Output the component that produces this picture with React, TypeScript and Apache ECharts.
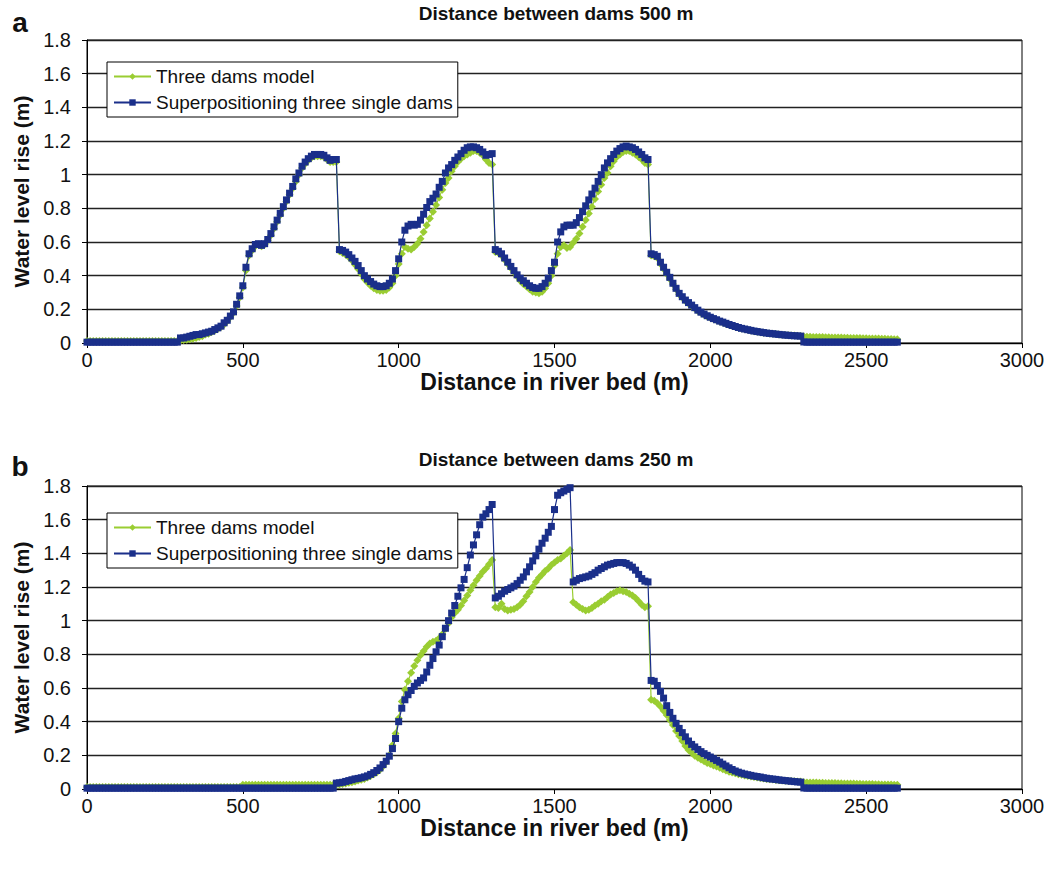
import React, { useEffect, useRef } from "react";
import * as echarts from "echarts";

// Sampling distance along the river bed (m) between consecutive readings
const STEP_M = 10;

const seriesNames = ["Three dams model", "Superpositioning three single dams"];
const panelTitles = ["Distance between dams 500 m", "Distance between dams 250 m"];
const panelLetters = ["a", "b"];
const xAxisTitle = "Distance in river bed (m)";
const yAxisTitle = "Water level rise (m)";

// ---------- Panel a: distance between dams 500 m (values every 10 m, 0..2600) ----------
const aThreeDams = [
  0.012, 0.012, 0.012, 0.012, 0.012, 0.012, 0.012, 0.012, 0.012, 0.012,
  0.012, 0.012, 0.012, 0.012, 0.012, 0.012, 0.012, 0.012, 0.012, 0.012,
  0.012, 0.012, 0.012, 0.012, 0.012, 0.012, 0.012, 0.012, 0.012, 0.012,
  0.015, 0.018, 0.02, 0.022, 0.025, 0.03, 0.035, 0.04, 0.05, 0.055,
  0.065, 0.075, 0.085, 0.095, 0.11, 0.13, 0.155, 0.18, 0.22, 0.27,
  0.33, 0.43, 0.52, 0.55, 0.575, 0.585, 0.575, 0.585, 0.61, 0.64,
  0.68, 0.72, 0.76, 0.8, 0.84, 0.88, 0.92, 0.96, 1.0, 1.04,
  1.065, 1.085, 1.1, 1.11, 1.11, 1.11, 1.105, 1.09, 1.075, 1.075,
  1.075, 0.545, 0.535, 0.525, 0.51, 0.49, 0.465, 0.44, 0.41, 0.38,
  0.36, 0.34, 0.325, 0.315, 0.31, 0.31, 0.315, 0.33, 0.355, 0.4,
  0.47, 0.53, 0.57, 0.56, 0.555, 0.57, 0.59, 0.62, 0.66, 0.7,
  0.74, 0.78, 0.82, 0.865, 0.91, 0.95, 0.98, 1.02, 1.05, 1.075,
  1.095, 1.11, 1.12, 1.13, 1.14, 1.14, 1.13, 1.115, 1.09, 1.07,
  1.06, 0.54, 0.535, 0.52, 0.495, 0.47, 0.445, 0.42, 0.395, 0.37,
  0.35, 0.335, 0.32, 0.305, 0.3, 0.295, 0.305, 0.325, 0.355, 0.4,
  0.46, 0.53, 0.57, 0.58, 0.565, 0.57, 0.595, 0.62, 0.65, 0.69,
  0.73, 0.77, 0.81, 0.855, 0.9, 0.94, 0.98, 1.01, 1.05, 1.08,
  1.105, 1.12, 1.135, 1.14, 1.14, 1.13, 1.12, 1.105, 1.09, 1.07,
  1.06, 0.52, 0.515, 0.505, 0.47, 0.44, 0.41, 0.38, 0.35, 0.32,
  0.29, 0.27, 0.25, 0.235, 0.22, 0.205, 0.19, 0.18, 0.168, 0.158,
  0.15, 0.142, 0.135, 0.128, 0.122, 0.115, 0.108, 0.102, 0.096, 0.091,
  0.086, 0.082, 0.078, 0.074, 0.07, 0.067, 0.064, 0.061, 0.059, 0.057,
  0.055, 0.053, 0.051, 0.049, 0.048, 0.046, 0.045, 0.044, 0.043, 0.042,
  0.038, 0.037, 0.037, 0.036, 0.036, 0.035, 0.035, 0.034, 0.034, 0.033,
  0.033, 0.032, 0.032, 0.031, 0.031, 0.03, 0.03, 0.029, 0.029, 0.028,
  0.028, 0.027, 0.027, 0.026, 0.026, 0.025, 0.025, 0.024, 0.024, 0.023,
  0.022,
];

const aSuperposition = [
  0.005, 0.005, 0.005, 0.005, 0.005, 0.005, 0.005, 0.005, 0.005, 0.005,
  0.005, 0.005, 0.005, 0.005, 0.005, 0.005, 0.005, 0.005, 0.005, 0.005,
  0.005, 0.005, 0.005, 0.005, 0.005, 0.005, 0.005, 0.005, 0.005, 0.005,
  0.03, 0.03, 0.035, 0.04, 0.045, 0.05, 0.05, 0.055, 0.06, 0.065,
  0.07, 0.08, 0.09, 0.1, 0.12, 0.135, 0.16, 0.185, 0.23, 0.28,
  0.34, 0.45, 0.53, 0.56, 0.585, 0.59, 0.58, 0.59, 0.615, 0.65,
  0.69, 0.73, 0.77, 0.81, 0.85, 0.89, 0.93, 0.975, 1.01, 1.05,
  1.075, 1.095, 1.11, 1.12, 1.12, 1.12, 1.115, 1.1, 1.085, 1.09,
  1.09, 0.555, 0.55, 0.54, 0.525, 0.505, 0.485, 0.46, 0.43, 0.4,
  0.38, 0.365, 0.35, 0.34, 0.335, 0.335, 0.34, 0.355, 0.38, 0.43,
  0.5, 0.6, 0.67, 0.695, 0.705, 0.7, 0.705, 0.73, 0.765, 0.805,
  0.84, 0.86, 0.885, 0.925, 0.96, 1.01, 1.04, 1.06, 1.085, 1.105,
  1.125, 1.145, 1.16, 1.165, 1.165, 1.16, 1.15, 1.135, 1.115, 1.12,
  1.125, 0.555, 0.545, 0.53, 0.505, 0.48, 0.455, 0.43, 0.405, 0.385,
  0.37, 0.355, 0.34, 0.33, 0.325, 0.325, 0.335, 0.355, 0.385, 0.43,
  0.48, 0.6, 0.66, 0.69, 0.7, 0.7, 0.7, 0.715, 0.745, 0.78,
  0.815, 0.85, 0.885, 0.92, 0.96, 1.0, 1.04, 1.07, 1.095, 1.12,
  1.14, 1.155, 1.165, 1.17, 1.165, 1.16, 1.15, 1.135, 1.12, 1.1,
  1.09, 0.53, 0.525, 0.515, 0.48, 0.45, 0.42, 0.39, 0.355, 0.325,
  0.295, 0.275, 0.255, 0.24, 0.225, 0.21, 0.195, 0.183, 0.172, 0.162,
  0.153, 0.145, 0.138, 0.13, 0.124, 0.117, 0.11, 0.104, 0.098, 0.092,
  0.087, 0.083, 0.079, 0.075, 0.071, 0.068, 0.065, 0.062, 0.059, 0.057,
  0.055, 0.053, 0.051, 0.049, 0.047, 0.046, 0.044, 0.043, 0.042, 0.041,
  0.006, 0.005, 0.005, 0.005, 0.005, 0.005, 0.005, 0.005, 0.005, 0.005,
  0.005, 0.005, 0.005, 0.005, 0.005, 0.005, 0.005, 0.005, 0.005, 0.005,
  0.005, 0.005, 0.005, 0.005, 0.005, 0.005, 0.005, 0.005, 0.005, 0.005,
  0.005,
];

// ---------- Panel b: distance between dams 250 m (values every 10 m, 0..2600) ----------
const bThreeDams = [
  0.012, 0.012, 0.012, 0.012, 0.012, 0.012, 0.012, 0.012, 0.012, 0.012,
  0.012, 0.012, 0.012, 0.012, 0.012, 0.012, 0.012, 0.012, 0.012, 0.012,
  0.012, 0.012, 0.012, 0.012, 0.012, 0.012, 0.012, 0.012, 0.012, 0.012,
  0.012, 0.012, 0.012, 0.012, 0.012, 0.012, 0.012, 0.012, 0.012, 0.012,
  0.012, 0.012, 0.012, 0.012, 0.012, 0.012, 0.012, 0.012, 0.012, 0.012,
  0.025, 0.025, 0.025, 0.025, 0.025, 0.025, 0.025, 0.025, 0.025, 0.025,
  0.025, 0.025, 0.025, 0.025, 0.025, 0.025, 0.025, 0.025, 0.025, 0.025,
  0.025, 0.025, 0.025, 0.025, 0.025, 0.025, 0.025, 0.025, 0.025, 0.025,
  0.025, 0.027, 0.03, 0.033, 0.037, 0.04, 0.045, 0.05, 0.055, 0.06,
  0.068, 0.077, 0.088, 0.1, 0.115, 0.135, 0.16, 0.2, 0.26, 0.33,
  0.42, 0.52, 0.59, 0.64, 0.69, 0.73, 0.765, 0.795, 0.82, 0.845,
  0.865, 0.875, 0.88, 0.895, 0.92, 0.95, 0.985, 1.02, 1.045, 1.065,
  1.09, 1.12, 1.15, 1.18, 1.21, 1.24, 1.265, 1.29, 1.31, 1.335,
  1.36, 1.08, 1.075, 1.1, 1.07, 1.06, 1.065, 1.07, 1.08, 1.095,
  1.115, 1.145, 1.17, 1.2, 1.23, 1.255, 1.275, 1.295, 1.31, 1.33,
  1.345, 1.36, 1.37, 1.385, 1.4, 1.42, 1.11, 1.095, 1.08, 1.07,
  1.06, 1.065, 1.075, 1.09, 1.1, 1.115, 1.125, 1.14, 1.155, 1.165,
  1.175, 1.18, 1.175, 1.17, 1.16, 1.15, 1.135, 1.115, 1.095, 1.08,
  1.085, 0.53, 0.525, 0.51, 0.49, 0.465, 0.44, 0.41, 0.38, 0.345,
  0.315, 0.285, 0.255, 0.232, 0.215, 0.198, 0.185, 0.175, 0.165, 0.155,
  0.148, 0.14, 0.133, 0.126, 0.118, 0.11, 0.103, 0.098, 0.093, 0.088,
  0.084, 0.08, 0.077, 0.074, 0.071, 0.068, 0.065, 0.062, 0.06, 0.058,
  0.056, 0.054, 0.052, 0.05, 0.049, 0.048, 0.047, 0.046, 0.045, 0.044,
  0.04, 0.039, 0.039, 0.038, 0.038, 0.037, 0.037, 0.036, 0.036, 0.035,
  0.035, 0.034, 0.034, 0.033, 0.033, 0.032, 0.032, 0.031, 0.031, 0.03,
  0.03, 0.029, 0.029, 0.028, 0.028, 0.027, 0.027, 0.026, 0.026, 0.025,
  0.025,
];

const bSuperposition = [
  0.005, 0.005, 0.005, 0.005, 0.005, 0.005, 0.005, 0.005, 0.005, 0.005,
  0.005, 0.005, 0.005, 0.005, 0.005, 0.005, 0.005, 0.005, 0.005, 0.005,
  0.005, 0.005, 0.005, 0.005, 0.005, 0.005, 0.005, 0.005, 0.005, 0.005,
  0.005, 0.005, 0.005, 0.005, 0.005, 0.005, 0.005, 0.005, 0.005, 0.005,
  0.005, 0.005, 0.005, 0.005, 0.005, 0.005, 0.005, 0.005, 0.005, 0.005,
  0.005, 0.005, 0.005, 0.005, 0.005, 0.005, 0.005, 0.005, 0.005, 0.005,
  0.005, 0.005, 0.005, 0.005, 0.005, 0.005, 0.005, 0.005, 0.005, 0.005,
  0.005, 0.005, 0.005, 0.005, 0.005, 0.005, 0.005, 0.005, 0.005, 0.005,
  0.035, 0.037, 0.04, 0.045, 0.05, 0.055, 0.06, 0.063, 0.067, 0.072,
  0.078, 0.087, 0.097, 0.11, 0.125, 0.145, 0.165, 0.195, 0.24, 0.3,
  0.4, 0.48, 0.53, 0.56, 0.585, 0.61, 0.63, 0.645, 0.66, 0.695,
  0.735, 0.775, 0.815, 0.855, 0.905, 0.955, 1.0, 1.045, 1.09, 1.145,
  1.195, 1.245, 1.315, 1.39, 1.45, 1.51, 1.57, 1.615, 1.635, 1.66,
  1.69, 1.135, 1.145, 1.16, 1.175, 1.185, 1.195, 1.205, 1.22, 1.24,
  1.26, 1.29, 1.32, 1.355, 1.385, 1.425, 1.46, 1.49, 1.525, 1.56,
  1.66, 1.745, 1.76, 1.77, 1.78, 1.79, 1.23, 1.24, 1.25, 1.255,
  1.26, 1.265, 1.275, 1.285, 1.3, 1.31, 1.32, 1.33, 1.335, 1.34,
  1.345, 1.345, 1.345, 1.34, 1.33, 1.318, 1.3, 1.275, 1.25, 1.235,
  1.23, 0.645, 0.64, 0.615, 0.58, 0.54, 0.495, 0.455, 0.42, 0.39,
  0.36, 0.335, 0.31, 0.285, 0.265, 0.25, 0.235, 0.222, 0.21, 0.2,
  0.19, 0.18, 0.17, 0.16, 0.148, 0.137, 0.126, 0.116, 0.107, 0.1,
  0.094, 0.089, 0.085, 0.081, 0.077, 0.074, 0.071, 0.067, 0.064, 0.061,
  0.059, 0.057, 0.054, 0.052, 0.05, 0.048, 0.046, 0.044, 0.042, 0.041,
  0.006, 0.005, 0.005, 0.005, 0.005, 0.005, 0.005, 0.005, 0.005, 0.005,
  0.005, 0.005, 0.005, 0.005, 0.005, 0.005, 0.005, 0.005, 0.005, 0.005,
  0.005, 0.005, 0.005, 0.005, 0.005, 0.005, 0.005, 0.005, 0.005, 0.005,
  0.005,
];

const GREEN = "#9ACD32";
const BLUE = "#1A2F8A";
const FONT = "'Liberation Sans', Arial, sans-serif";

function toPairs(values: number[]) {
  return values.map((v, i) => [i * STEP_M, v]);
}

export default function App() {
  const ref = useRef<HTMLDivElement>(null);

  useEffect(() => {
    if (!ref.current) return;
    const chart = echarts.init(ref.current, null, { renderer: "svg" });

    const grids = [
      { left: 87, top: 40, width: 935, height: 303 },
      { left: 87, top: 486, width: 935, height: 303 },
    ];

    const makeX = (gi: number) => ({
      type: "value",
      gridIndex: gi,
      min: 0,
      max: 3000,
      interval: 500,
      axisLine: { show: true, lineStyle: { color: "#000", width: 1 } },
      axisTick: { show: true, length: 5, lineStyle: { color: "#000" } },
      splitLine: { show: false },
      axisLabel: {
        color: "#111",
        fontSize: 20,
        fontFamily: FONT,
        margin: 7,
        formatter: (v: number) => String(v),
      },
      name: xAxisTitle,
      nameLocation: "middle",
      nameGap: 27,
      nameTextStyle: { color: "#111", fontSize: 23, fontWeight: "bold", fontFamily: FONT },
    });

    const makeY = (gi: number) => ({
      type: "value",
      gridIndex: gi,
      min: 0,
      max: 1.8,
      interval: 0.2,
      axisLine: { show: true, lineStyle: { color: "#000", width: 1 } },
      axisTick: { show: true, length: 5, lineStyle: { color: "#000" } },
      splitLine: { show: true, lineStyle: { color: "#222", width: 1.4 } },
      axisLabel: { color: "#111", fontSize: 20, fontFamily: FONT, margin: 16 },
      name: yAxisTitle,
      nameLocation: "middle",
      nameRotate: 90,
      nameGap: 52,
      nameTextStyle: { color: "#111", fontSize: 21, fontWeight: "bold", fontFamily: FONT },
    });

    const makeLegend = (top: number) => ({
      orient: "vertical",
      left: 107,
      top,
      itemWidth: 37,
      itemHeight: 8,
      itemGap: 7,
      padding: [5, 5, 5, 6],
      borderColor: "#000",
      borderWidth: 1,
      backgroundColor: "#fff",
      selectedMode: false,
      textStyle: { color: "#111", fontSize: 19, fontFamily: FONT },
      data: seriesNames,
    });

    const greenSeries = (gi: number, values: number[]) => ({
      name: seriesNames[0],
      type: "line",
      xAxisIndex: gi,
      yAxisIndex: gi,
      data: toPairs(values),
      symbol: "diamond",
      symbolSize: 8,
      lineStyle: { color: GREEN, width: 1.2 },
      itemStyle: { color: GREEN },
      z: 2,
    });

    const blueSeries = (gi: number, values: number[]) => ({
      name: seriesNames[1],
      type: "line",
      xAxisIndex: gi,
      yAxisIndex: gi,
      data: toPairs(values),
      symbol: "rect",
      symbolSize: 7,
      lineStyle: { color: BLUE, width: 1.2 },
      itemStyle: { color: BLUE },
      z: 3,
    });

    const textEl = (text: string, x: number, y: number, size: number) => ({
      type: "text",
      x,
      y,
      style: {
        text,
        fill: "#111",
        font: `bold ${size}px ${FONT}`,
        textAlign: "center",
        textVerticalAlign: "middle",
      },
    });

    const option = {
      animation: false,
      backgroundColor: "#fff",
      grid: grids.map((g) => ({ ...g, show: true, borderColor: "#000", borderWidth: 1, backgroundColor: "transparent" })),
      xAxis: [makeX(0), makeX(1)],
      yAxis: [makeY(0), makeY(1)],
      legend: [makeLegend(62), makeLegend(513)],
      series: [
        greenSeries(0, aThreeDams),
        blueSeries(0, aSuperposition),
        greenSeries(1, bThreeDams),
        blueSeries(1, bSuperposition),
      ],
      graphic: [
        textEl(panelLetters[0], 20, 22, 28),
        textEl(panelTitles[0], 556, 13, 19),
        textEl(panelLetters[1], 20, 466, 28),
        textEl(panelTitles[1], 556, 459, 19),
      ],
    };

    chart.setOption(option as any);
    return () => chart.dispose();
  }, []);

  return (
    <div
      ref={ref}
      style={{ position: "absolute", left: 0, top: 0, width: 1048, height: 871, background: "#fff" }}
    />
  );
}
